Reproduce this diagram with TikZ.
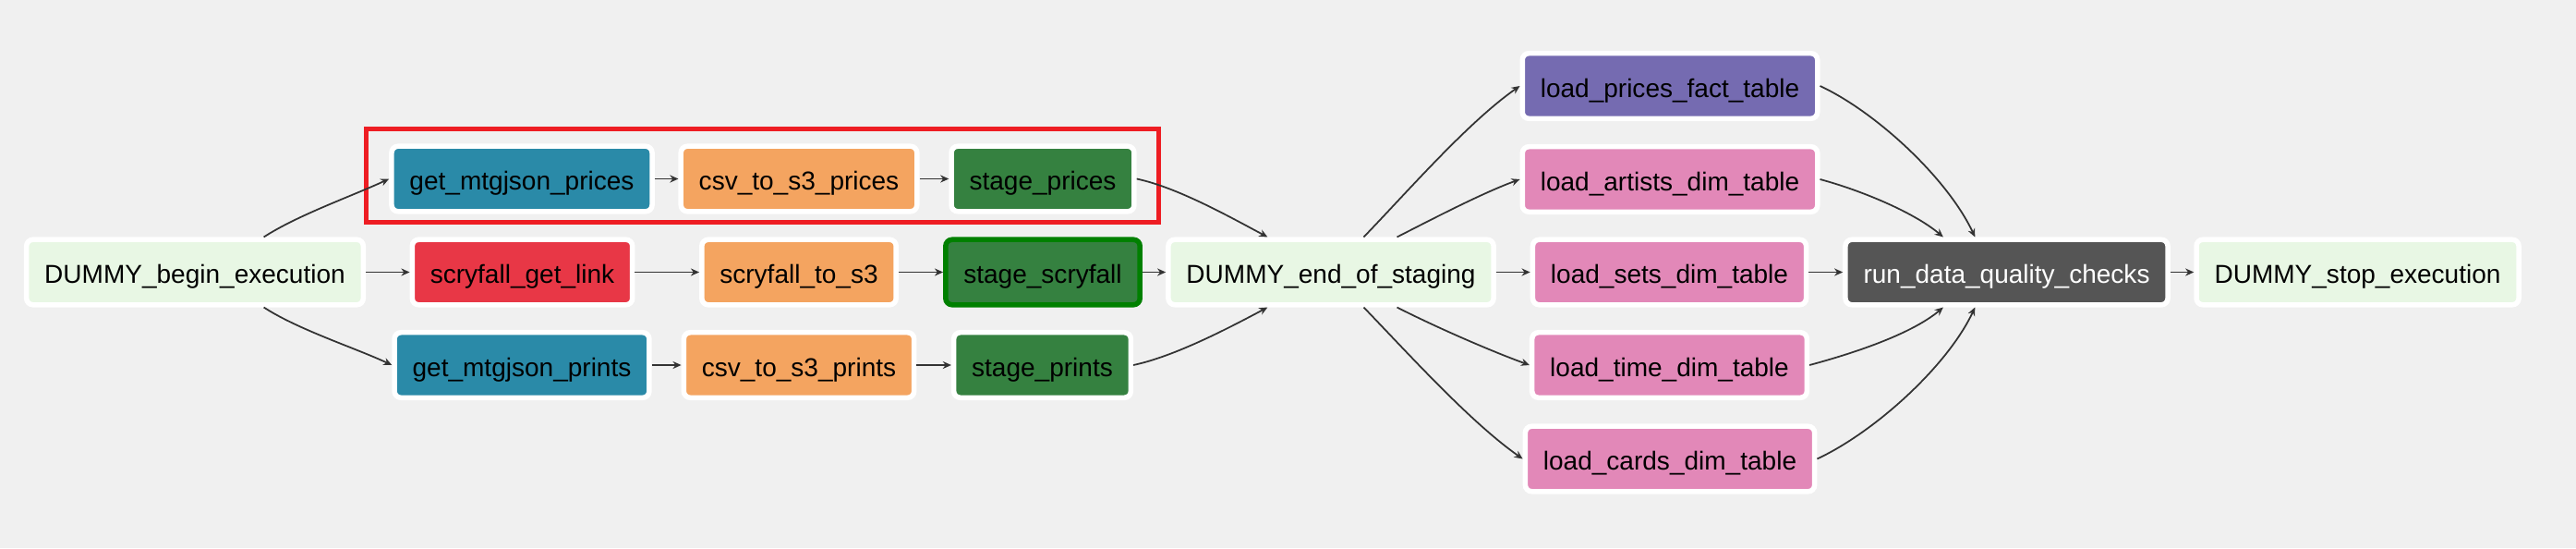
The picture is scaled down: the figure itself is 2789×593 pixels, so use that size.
\documentclass[tikz,border=0pt]{standalone}
\usepackage{fontspec}
\setmainfont{Liberation Sans}
\usetikzlibrary{arrows.meta}
\definecolor{bgcol}{HTML}{F0F0F0}
\definecolor{dummycol}{HTML}{E8F7E4}
\definecolor{fetchcol}{HTML}{2A8AA8}
\definecolor{linkcol}{HTML}{E83746}
\definecolor{uploadcol}{HTML}{F4A460}
\definecolor{stagecol}{HTML}{358140}
\definecolor{factcol}{HTML}{756BB1}
\definecolor{dimcol}{HTML}{E288B8}
\definecolor{checkcol}{HTML}{555555}
\definecolor{edgecol}{HTML}{333333}
\definecolor{markcol}{HTML}{EE1D23}
\definecolor{runcol}{HTML}{008000}
\tikzset{
 task/.style={draw=white,line width=0.055cm,rounded corners=0.07cm,minimum height=0.705cm,
   inner xsep=0.195cm,inner ysep=0pt,text height=0.24cm,text depth=0pt,
   font=\fontsize{7.97}{9}\selectfont},
 dummy/.style={task,fill=dummycol},
 fetch/.style={task,fill=fetchcol},
 getlink/.style={task,fill=linkcol},
 upload/.style={task,fill=uploadcol},
 stage/.style={task,fill=stagecol},
 fact/.style={task,fill=factcol},
 dim/.style={task,fill=dimcol},
 check/.style={task,fill=checkcol,text=white},
 flow/.style={draw=edgecol,line width=0.5pt,-{Stealth[length=2.6pt,width=2.3pt]}},
 curveflow/.style={flow,looseness=0.75},
}
\begin{document}
\begin{tikzpicture}[x=0.01cm,y=0.01cm]
 \fill[bgcol] (0,0) rectangle (2789,593);
 \useasboundingbox (0,0) rectangle (2789,593);
 \node[dummy] (begin) at (211,298.5) {DUMMY\_begin\_execution};
 \node[fetch] (getprices) at (565,399.5) {get\_mtgjson\_prices};
 \node[getlink] (getlink) at (565.5,298.5) {scryfall\_get\_link};
 \node[fetch] (getprints) at (565,198) {get\_mtgjson\_prints};
 \node[upload] (csvprices) at (865,399.5) {csv\_to\_s3\_prices};
 \node[upload] (scrys3) at (865,298.5) {scryfall\_to\_s3};
 \node[upload] (csvprints) at (865,198) {csv\_to\_s3\_prints};
 \node[stage] (stprices) at (1129,399.5) {stage\_prices};
 \node[stage,draw=runcol] (stscry) at (1129,298.5) {stage\_scryfall};
 \node[stage] (stprints) at (1128.5,198) {stage\_prints};
 \node[dummy] (endstage) at (1441,298.5) {DUMMY\_end\_of\_staging};
 \node[fact] (ldprices) at (1808,500) {load\_prices\_fact\_table};
 \node[dim] (ldartists) at (1808,399) {load\_artists\_dim\_table};
 \node[dim] (ldsets) at (1807.5,298.5) {load\_sets\_dim\_table};
 \node[dim] (ldtime) at (1807.5,198) {load\_time\_dim\_table};
 \node[dim] (ldcards) at (1808,96.5) {load\_cards\_dim\_table};
 \node[check] (dqcheck) at (2172.5,298.5) {run\_data\_quality\_checks};
 \node[dummy] (stop) at (2552.5,298.5) {DUMMY\_stop\_execution};
 \draw[markcol,line width=0.05cm] (396,453.5) rectangle (1254.5,352.5);
 \draw[curveflow] (begin.27) to[out=33,in=205] (getprices.west);
 \draw[flow] (begin) -- (getlink);
 \draw[curveflow] (begin.-27) to[out=-33,in=155] (getprints.west);
 \draw[flow] (getprices) -- (csvprices);
 \draw[flow] (csvprices) -- (stprices);
 \draw[flow] (getlink) -- (scrys3);
 \draw[flow] (scrys3) -- (stscry);
 \draw[flow] (getprints) -- (csvprints);
 \draw[flow] (csvprints) -- (stprints);
 \draw[curveflow] (stprices.east) to[out=-12,in=152] (endstage.151);
 \draw[flow] (stscry) -- (endstage);
 \draw[curveflow] (stprints.east) to[out=12,in=-152] (endstage.-151);
 \draw[curveflow] (endstage.47) to[out=46,in=215] (ldprices.west);
 \draw[curveflow] (endstage.28) to[out=27,in=200] (ldartists.west);
 \draw[flow] (endstage) -- (ldsets);
 \draw[curveflow] (endstage.-28) to[out=-27,in=160] (ldtime.west);
 \draw[curveflow] (endstage.-47) to[out=-46,in=145] (ldcards.west);
 \draw[curveflow] (ldprices.east) to[out=-25,in=115] (dqcheck.132);
 \draw[curveflow] (ldartists.east) to[out=-15,in=140] (dqcheck.151);
 \draw[flow] (ldsets) -- (dqcheck);
 \draw[curveflow] (ldtime.east) to[out=15,in=-140] (dqcheck.-151);
 \draw[curveflow] (ldcards.east) to[out=25,in=-115] (dqcheck.-132);
 \draw[flow] (dqcheck) -- (stop);
\end{tikzpicture}
\end{document}
